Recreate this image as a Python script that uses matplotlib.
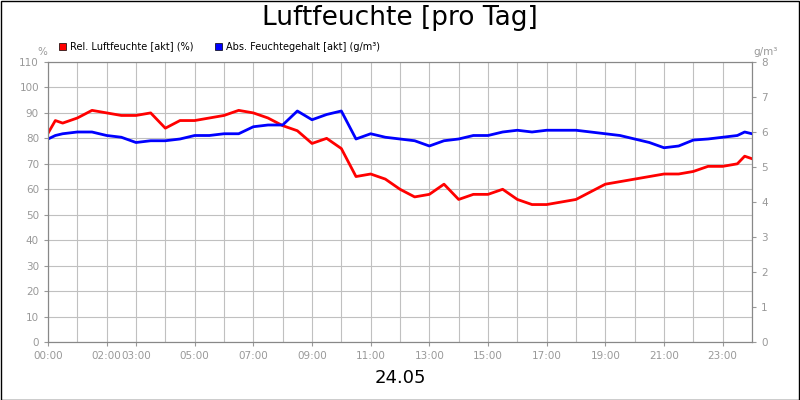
import matplotlib
matplotlib.use("Agg")
import matplotlib.pyplot as plt
import numpy as np

hours = [0,0.25,0.5,1,1.5,2,2.5,3,3.5,4,4.5,5,5.5,6,6.5,7,7.5,8,8.5,9,9.5,10,10.5,11,11.5,12,12.5,13,13.5,14,14.5,15,15.5,16,16.5,17,17.5,18,18.5,19,19.5,20,20.5,21,21.5,22,22.5,23,23.5,23.75,24]
rel = [82,87,86,88,91,90,89,89,90,84,87,87,88,89,91,90,88,85,83,78,80,76,65,66,64,60,57,58,62,56,58,58,60,56,54,54,55,56,59,62,63,64,65,66,66,67,69,69,70,73,72]
absf = [5.8,5.9,5.95,6.0,6.0,5.9,5.85,5.7,5.75,5.75,5.8,5.9,5.9,5.95,5.95,6.15,6.2,6.2,6.6,6.35,6.5,6.6,5.8,5.95,5.85,5.8,5.75,5.6,5.75,5.8,5.9,5.9,6.0,6.05,6.0,6.05,6.05,6.05,6.0,5.95,5.9,5.8,5.7,5.55,5.6,5.77,5.8,5.85,5.9,6.0,5.95]
xticks = [0,2,3,5,7,9,11,13,15,17,19,21,23]
xlabels = ["00:00","02:00","03:00","05:00","07:00","09:00","11:00","13:00","15:00","17:00","19:00","21:00","23:00"]

fig = plt.figure(figsize=(8,4), dpi=100)
fig.patches.append(plt.Rectangle((0.001,0.001),0.998,0.997,transform=fig.transFigure,fill=False,edgecolor='black',lw=1))
ax = fig.add_axes([48/800, 58/400, 704/800, 280/400])
ax.plot(hours, rel, color='#ff0000', lw=2)
ax.set_xlim(0,24); ax.set_ylim(0,110)
ax.set_yticks(range(0,111,10))
ax.set_xticks(np.arange(0,25,1), minor=True)
ax.set_xticks(xticks); ax.set_xticklabels(xlabels)
ax.grid(True, which='both', axis='x', color='#c0c0c0', lw=0.8)
ax.grid(True, axis='y', color='#c0c0c0', lw=0.8)
ax.set_axisbelow(True)
ax.tick_params(colors='#999999', labelsize=7.5, length=3)
ax.tick_params(which='minor', length=0)
ax2 = ax.twinx()
ax2.plot(hours, absf, color='#0000ff', lw=2)
ax2.set_ylim(0,8); ax2.set_yticks(range(0,9))
ax2.tick_params(colors='#999999', labelsize=7.5, length=3)
for a in (ax, ax2):
    for s in a.spines.values(): s.set_color('#888888')
fig.text(0.5, 0.955, "Luftfeuchte [pro Tag]", ha='center', va='center', fontsize=19)
fig.text(0.5, 0.055, "24.05", ha='center', va='center', fontsize=13)
fig.text(42/800, 348/400, "%", ha='center', va='center', fontsize=7.5, color='#999999')
fig.text(766/800, 348/400, "g/m³", ha='center', va='center', fontsize=7.5, color='#999999')
fig.patches.append(plt.Rectangle((59/800,350/400),7/800,7/400,transform=fig.transFigure,color='#ff0000',ec='black',lw=0.5))
fig.text(70/800, 353.5/400, "Rel. Luftfeuchte [akt] (%)", va='center', fontsize=7)
fig.patches.append(plt.Rectangle((215/800,350/400),7/800,7/400,transform=fig.transFigure,color='#0000ff',ec='black',lw=0.5))
fig.text(226/800, 353.5/400, "Abs. Feuchtegehalt [akt] (g/m³)", va='center', fontsize=7)
fig.savefig("out.png", dpi=100)
